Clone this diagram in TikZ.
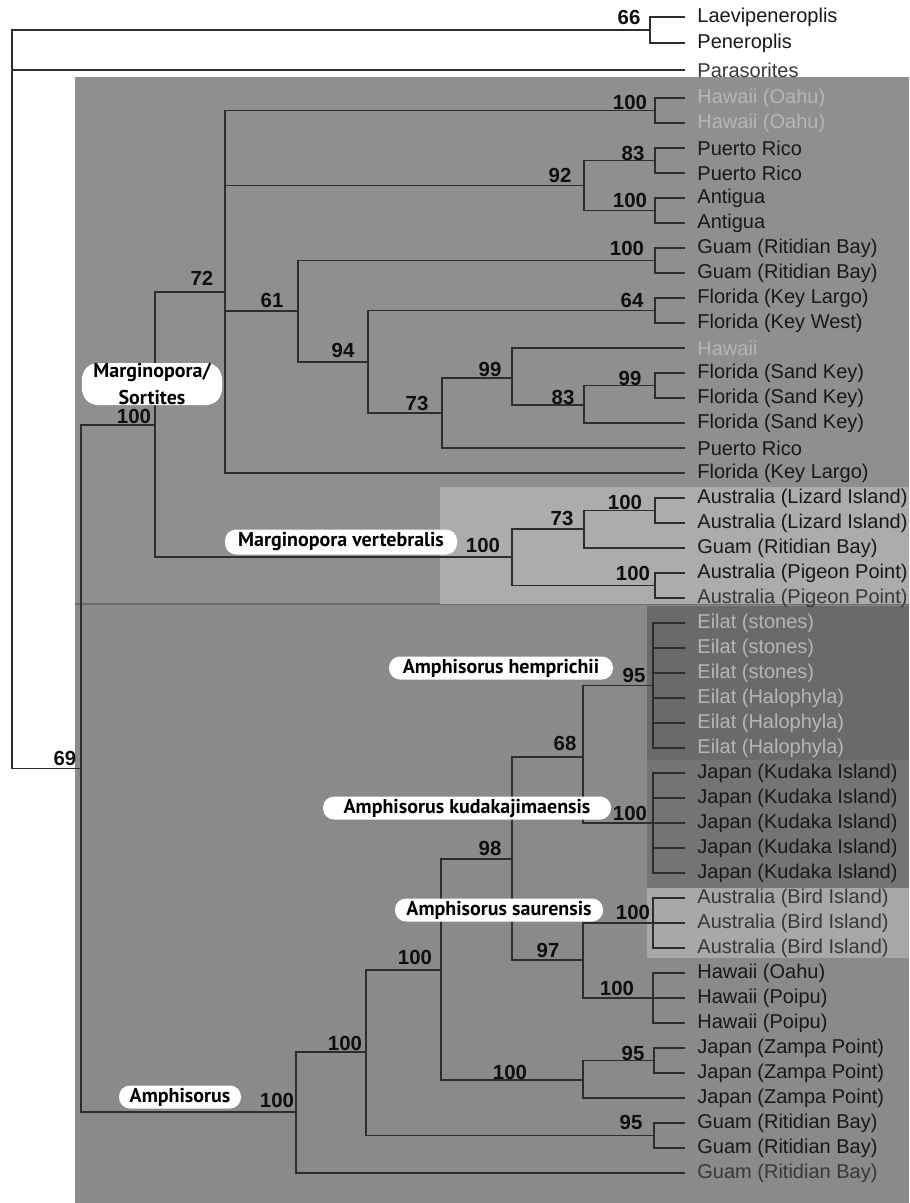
\documentclass[tikz,border=0pt]{standalone}
\usepackage{fontspec}
\setmainfont{Liberation Sans}
\newfontfamily\pillfam{PT Sans}
\usetikzlibrary{positioning}
\definecolor{bgmain}{RGB}{143,143,145}
\definecolor{bglow}{RGB}{138,138,140}
\definecolor{bglight}{RGB}{172,172,174}
\definecolor{bgdark}{RGB}{106,106,108}
\definecolor{bgdarkb}{RGB}{116,116,118}
\definecolor{bgbird}{RGB}{168,168,170}
\definecolor{branchgray}{RGB}{45,45,47}
\definecolor{leafdark}{RGB}{24,24,26}
\definecolor{leafmid}{RGB}{55,55,57}
\definecolor{leaflight}{RGB}{182,182,184}
\definecolor{bootblack}{RGB}{15,15,15}
\tikzset{
  branch/.style={draw=branchgray, line width=0.65pt},
  leaf/.style={anchor=west, inner sep=0pt, font=\fontsize{10}{11}\selectfont},
  boot/.style={inner sep=0pt, text=bootblack,
               font=\fontsize{10.2}{11}\selectfont\bfseries},
  clade/.style={rectangle, rounded corners=5.5pt, fill=white, inner sep=0pt,
                minimum height=11.5pt, align=center, text=black,
                font=\pillfam\fontsize{10}{13.5}\selectfont\bfseries}
}

\begin{document}
\begin{tikzpicture}[x=0.5pt, y=-0.5pt]
\useasboundingbox (0,0) rectangle (909,1203);
\fill[white] (0,0) rectangle (909,1203);
\fill[bgmain] (75,77) rectangle (909,1203);
\fill[bglow] (75,604) rectangle (909,1203);
\draw[bgdark, line width=0.6pt] (75,604) -- (909,604);
\fill[bglight] (440,487) rectangle (909,604);
\fill[bgdark] (647,606) rectangle (909,760);
\fill[bgdarkb] (647,760) rectangle (909,888);
\fill[bgbird] (647,888) rectangle (909,958);

% leaves
\foreach \i/\y/\txt/\col in {
  1/17/Laevipeneroplis/leafdark, 2/43/Peneroplis/leafdark,
  3/70/Parasorites/leafmid,
  4/98/Hawaii (Oahu)/leaflight, 5/123/Hawaii (Oahu)/leaflight,
  6/148/Puerto Rico/leafdark, 7/173/Puerto Rico/leafdark,
  8/198/Antigua/leafdark, 9/223/Antigua/leafdark,
  10/248/Guam (Ritidian Bay)/leafdark, 11/273/Guam (Ritidian Bay)/leafdark,
  12/298/Florida (Key Largo)/leafdark, 13/323/Florida (Key West)/leafdark,
  14/348/Hawaii/leaflight,
  15/373/Florida (Sand Key)/leafdark, 16/398/Florida (Sand Key)/leafdark,
  17/423/Florida (Sand Key)/leafdark, 18/448/Puerto Rico/leafdark,
  19/473/Florida (Key Largo)/leafdark,
  20/498/Australia (Lizard Island)/leafdark,
  21/523/Australia (Lizard Island)/leafdark,
  22/548/Guam (Ritidian Bay)/leafdark,
  23/573/Australia (Pigeon Point)/leafdark,
  24/598/Australia (Pigeon Point)/leafmid,
  25/623/Eilat (stones)/leaflight, 26/648/Eilat (stones)/leaflight,
  27/673/Eilat (stones)/leaflight, 28/698/Eilat (Halophyla)/leaflight,
  29/723/Eilat (Halophyla)/leaflight, 30/748/Eilat (Halophyla)/leaflight,
  31/773/Japan (Kudaka Island)/leafdark, 32/798/Japan (Kudaka Island)/leafdark,
  33/823/Japan (Kudaka Island)/leafdark, 34/848/Japan (Kudaka Island)/leafdark,
  35/873/Japan (Kudaka Island)/leafdark,
  36/898/Australia (Bird Island)/leafmid, 37/923/Australia (Bird Island)/leafmid,
  38/948/Australia (Bird Island)/leafmid,
  39/973/Hawaii (Oahu)/leafdark, 40/998/Hawaii (Poipu)/leafdark,
  41/1023/Hawaii (Poipu)/leafdark,
  42/1048/Japan (Zampa Point)/leafdark, 43/1073/Japan (Zampa Point)/leafdark,
  44/1098/Japan (Zampa Point)/leafdark,
  45/1123/Guam (Ritidian Bay)/leafdark, 46/1148/Guam (Ritidian Bay)/leafdark,
  47/1173/Guam (Ritidian Bay)/leafmid}
{
  \coordinate (l\i) at (685,\y);
  \node[leaf, text=\col, right=6pt of l\i] (t\i) {\txt};
}

% internal nodes
\foreach \n/\x/\y in {
  root/12/399.5, n66/650/30, n69/81/768.5, nMS/155/425, n72/225/292,
  nHO/655/110.5, n92/584/185.5, nPR/655/160.5, nAn/655/210.5,
  n61/298/311, nGu/655/260.5, n94/368/362, nFK/655/310.5,
  n73/442/413, n99/512/378, n83/584/405, nSK/655/385.5,
  nMV/512/557, nMV73/584/529, nLI/655/510.5, nPP/655/585.5,
  nAm/296/1112, nA2/366/1052, nGB/654/1135.5, nA3/441/970,
  n98/512/859, n68/583/757, n97/583/960, nEi/653/685.5, nKu/653/823,
  nBI/653/923, nHP/653/998, nZ/583/1080, nZ95/654/1060.5}
  \coordinate (\n) at (\x,\y);

\foreach \p/\c in {
  root/n66, root/l3, root/n69, n66/l1, n66/l2,
  n69/nMS, n69/nAm, nMS/n72, nMS/nMV,
  n72/nHO, n72/n92, n72/n61, n72/l19, nHO/l4, nHO/l5,
  n92/nPR, n92/nAn, nPR/l6, nPR/l7, nAn/l8, nAn/l9,
  n61/nGu, n61/n94, nGu/l10, nGu/l11,
  n94/nFK, n94/n73, nFK/l12, nFK/l13,
  n73/n99, n73/l18, n99/l14, n99/n83,
  n83/nSK, n83/l17, nSK/l15, nSK/l16,
  nMV/nMV73, nMV/nPP, nMV73/nLI, nMV73/l22,
  nLI/l20, nLI/l21, nPP/l23, nPP/l24,
  nAm/nA2, nAm/l47, nA2/nA3, nA2/nGB, nGB/l45, nGB/l46,
  nA3/n98, nA3/nZ, n98/n68, n98/n97, n68/nEi, n68/nKu,
  nEi/l25, nEi/l26, nEi/l27, nEi/l28, nEi/l29, nEi/l30,
  nKu/l31, nKu/l32, nKu/l33, nKu/l34, nKu/l35,
  n97/nBI, n97/nHP, nBI/l36, nBI/l37, nBI/l38,
  nHP/l39, nHP/l40, nHP/l41,
  nZ/nZ95, nZ/l44, nZ95/l42, nZ95/l43}
  \draw[branch] (\p) |- (\c);

% clade names
\node[clade, minimum width=70pt, minimum height=21pt, rounded corners=8pt] (cMS) at (152,384) {Marginopora/\\Sortites};
\node[clade, minimum width=116pt, minimum height=12.5pt] (cMV) at (341,542) {Marginopora vertebralis};
\node[clade, minimum width=112pt] (cAH) at (501,668) {Amphisorus hemprichii};
\node[clade, minimum width=144pt] (cAK) at (467,808) {Amphisorus kudakajimaensis};
\node[clade, minimum width=104pt] (cAS) at (499,910) {Amphisorus saurensis};
\node[clade, minimum width=61pt] (cAm) at (180,1097) {Amphisorus};

% support values
\foreach \n/\x/\y/\v in {
  n66/629/17/66, nHO/630/102/100, nPR/633/153/83, n92/560/175/92,
  nAn/630/200/100, nGu/627/248/100, n72/202/278/72, n61/272/300/61,
  nFK/632/300/64, n94/343/350/94, n99/490/369/99, nSK/630/378/99,
  n83/563/397/83, n73/417/403/73, nMS/134/416/100, nLI/625/502/100,
  nMV73/562/518/73, nMV/483/545/100, nPP/633/573/100, nEi/634/675/95,
  n68/565/743/68, n69/65/758/69, nKu/630/813/100, n98/490/848/98,
  nBI/633/912/100, n97/548/950/97, nA3/415/957/100, nHP/617/988/100,
  nA2/345/1043/100, nZ95/633/1053/95, nZ/510/1072/100, nAm/277/1100/100,
  nGB/631/1122/95}
  \node[boot] (b\n) at (\x,\y) {\v};
\end{tikzpicture}
\end{document}
